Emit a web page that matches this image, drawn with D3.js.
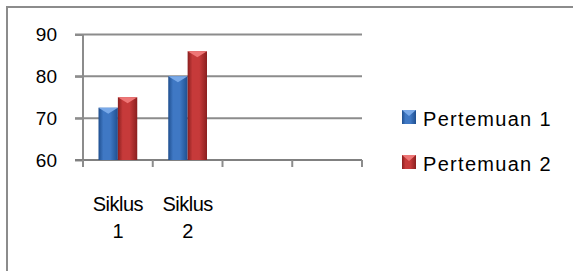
<!DOCTYPE html>
<html>
<head>
<meta charset="utf-8">
<script src="https://cdn.jsdelivr.net/npm/d3@7"></script>
<style>
  body { margin: 0; background: #fff; }
  text { font-family: "Liberation Sans", Arial, sans-serif; fill: #000; }
</style>
</head>
<body>
<div id="chart"></div>
<script>

WIDTH = 573;
HEIGHT = 271;

// chart data
var categories = ["Siklus 1", "Siklus 2", "", ""];
var series_names = ["Pertemuan 1", "Pertemuan 2"];
var pertemuan1 = [72.5, 80];
var pertemuan2 = [75, 86];
var y_ticks = [60, 70, 80, 90];

var series = [
    { name: series_names[0], values: pertemuan1, base: "#3f78c4", dark: "#1f4f8f", light: "#79a9e8" },
    { name: series_names[1], values: pertemuan2, base: "#c63a3a", dark: "#8a1f1f", light: "#ee7676" }
];

var svg = d3.select("#chart").append("svg")
    .attr("width", WIDTH)
    .attr("height", HEIGHT);

var defs = svg.append("defs");

series.forEach(function (s, i) {
    var g = defs.append("linearGradient")
        .attr("id", "grad" + i)
        .attr("x1", "0").attr("x2", "1").attr("y1", "0").attr("y2", "0");
    g.append("stop").attr("offset", "0%").attr("stop-color", s.dark);
    g.append("stop").attr("offset", "25%").attr("stop-color", s.base);
    g.append("stop").attr("offset", "60%").attr("stop-color", s.base);
    g.append("stop").attr("offset", "100%").attr("stop-color", s.dark);
});

// outer frame
svg.append("path")
    .attr("d", "M7," + HEIGHT + "V7H" + WIDTH)
    .attr("fill", "none")
    .attr("stroke", "#8c8c8c")
    .attr("stroke-width", 2);

var x = d3.scaleBand()
    .domain(d3.range(categories.length))
    .range([83, 362]);

var x1 = d3.scaleBand()
    .domain(d3.range(series.length))
    .range([0, x.bandwidth()])
    .paddingOuter(0.8);

var y = d3.scaleLinear()
    .domain([60, 90])
    .range([160, 34.5]);

// gridlines
svg.append("g")
    .selectAll("line")
    .data(y_ticks.slice(1))
    .enter()
    .append("line")
    .attr("x1", 75)
    .attr("x2", 362)
    .attr("y1", function (d) { return y(d); })
    .attr("y2", function (d) { return y(d); })
    .attr("stroke", "#8c8c8c")
    .attr("stroke-width", 2);

// y axis
var yAxis = svg.append("g")
    .attr("transform", "translate(83,0)")
    .call(d3.axisLeft(y).tickValues(y_ticks).tickSize(8).tickPadding(18));
yAxis.select(".domain").attr("stroke", "#8c8c8c").attr("stroke-width", 2)
    .attr("d", "M0," + y(90) + "V" + (y(60) + 7));
yAxis.selectAll(".tick line").attr("stroke", "#8c8c8c").attr("stroke-width", 2);
yAxis.selectAll("text").style("font-size", "19px").attr("fill", "#000");

// x axis line and ticks
svg.append("line")
    .attr("x1", 75).attr("x2", 362)
    .attr("y1", y(60)).attr("y2", y(60))
    .attr("stroke", "#808080").attr("stroke-width", 2);

svg.append("g")
    .selectAll("line")
    .data(d3.range(categories.length + 1))
    .enter()
    .append("line")
    .attr("x1", function (d) { return 83 + d * x.step(); })
    .attr("x2", function (d) { return 83 + d * x.step(); })
    .attr("y1", y(60))
    .attr("y2", y(60) + 7)
    .attr("stroke", "#8c8c8c")
    .attr("stroke-width", 2);

// bars
series.forEach(function (s, i) {
    var g = svg.append("g");
    g.selectAll("rect")
        .data(s.values)
        .enter()
        .append("rect")
        .attr("x", function (d, j) { return x(j) + x1(i); })
        .attr("width", x1.bandwidth())
        .attr("y", function (d) { return y(d); })
        .attr("height", function (d) { return y(60) - y(d); })
        .attr("fill", "url(#grad" + i + ")");
    // top bevel highlight
    g.selectAll("path")
        .data(s.values)
        .enter()
        .append("path")
        .attr("d", function (d, j) {
            var x0 = x(j) + x1(i), w = x1.bandwidth(), t = y(d);
            return "M" + x0 + "," + t + "H" + (x0 + w) + "L" + (x0 + w / 2) + "," + (t + 6) + "Z";
        })
        .attr("fill", s.light);
});

// category labels (wrapped)
var labels = svg.append("g")
    .selectAll("text")
    .data(categories)
    .enter()
    .append("text")
    .attr("text-anchor", "middle")
    .style("font-size", "20px")
    .style("letter-spacing", "-0.5px")
    .attr("transform", function (d, j) { return "translate(" + (x(j) + x.bandwidth() / 2) + ",0)"; });

labels.each(function (d) {
    var parts = d.split(" ");
    var t = d3.select(this);
    parts.forEach(function (p, k) {
        if (p) t.append("tspan").attr("x", 0).attr("y", 211 + k * 27).text(p);
    });
});

// legend
var legend = svg.append("g")
    .selectAll("g")
    .data(series)
    .enter()
    .append("g")
    .attr("transform", function (d, i) { return "translate(402," + (110 + i * 45) + ")"; });

legend.append("rect")
    .attr("width", 14)
    .attr("height", 14)
    .attr("fill", function (d, i) { return "url(#grad" + i + ")"; });

legend.append("path")
    .attr("d", "M0,0H14L7,6Z")
    .attr("fill", function (d) { return d.light; });

legend.append("text")
    .attr("x", 21)
    .attr("y", 16)
    .style("font-size", "20px")
    .style("letter-spacing", "1.3px")
    .text(function (d) { return d.name; });

</script>
</body>
</html>
